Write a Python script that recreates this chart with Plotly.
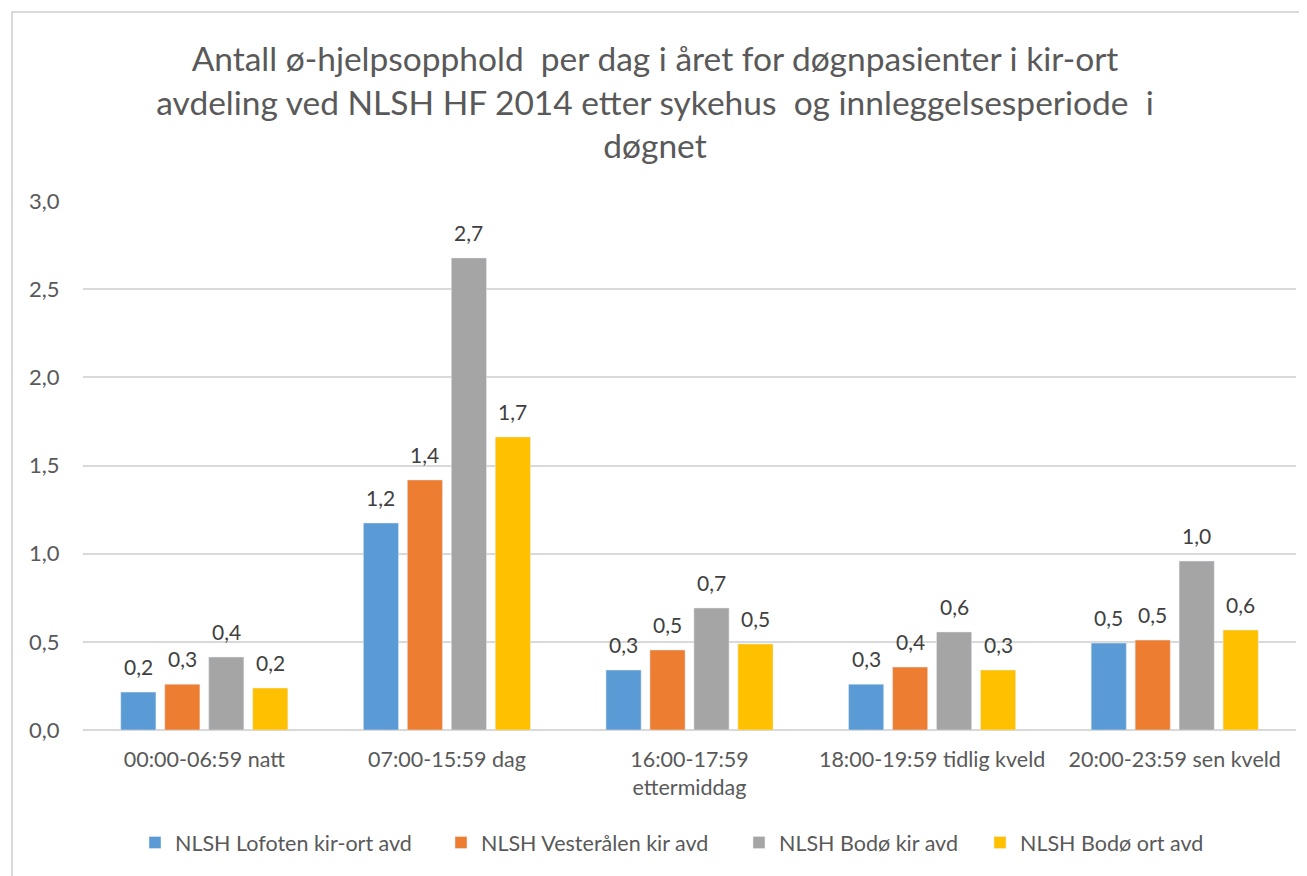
import plotly.graph_objects as go

categories = ["00:00-06:59 natt", "07:00-15:59 dag", "16:00-17:59<br>ettermiddag",
              "18:00-19:59 tidlig kveld", "20:00-23:59 sen kveld"]
series_names = ["NLSH Lofoten kir-ort avd", "NLSH Vesterålen kir avd",
                "NLSH Bodø kir avd", "NLSH Bodø ort avd"]
lofoten = [0.215, 1.174, 0.34, 0.26, 0.493]
vesteralen = [0.26, 1.418, 0.454, 0.357, 0.51]
bodo_kir = [0.414, 2.677, 0.692, 0.556, 0.958]
bodo_ort = [0.238, 1.662, 0.488, 0.34, 0.567]
colors = ["#5B9BD5", "#ED7D31", "#A5A5A5", "#FFC000"]
y_ticks = [0, 0.5, 1.0, 1.5, 2.0, 2.5, 3.0]

title = ("Antall ø-hjelpsopphold  per dag i året for døgnpasienter i kir-ort<br>"
         "avdeling ved NLSH HF 2014 etter sykehus  og innleggelsesperiode  i<br>døgnet")

font_family = "Lato, 'Open Sans', sans-serif"
legend_ids = ["legend", "legend2", "legend3", "legend4"]
legend_px = [150, 456, 754, 995]  # left edge of each legend swatch, page pixels
BARGAP = 0.275
n_series = len(series_names)

all_series = [lofoten, vesteralen, bodo_kir, bodo_ort]
fig = go.Figure()
for name, vals, col, lid in zip(series_names, all_series, colors, legend_ids):
    fig.add_trace(go.Bar(x=categories, y=vals, name=name, marker_color=col, legend=lid,
                         showlegend=True))

# data labels: placed at each bar's centre (category index + group offset, in axis units)
slot = (1 - BARGAP) / n_series
for i, vals in enumerate(all_series):
    for j, v in enumerate(vals):
        fig.add_annotation(x=j + (i - (n_series - 1) / 2) * slot, y=v, xref="x", yref="y",
                           text=f"{v:.1f}".replace(".", ","), showarrow=False,
                           yanchor="bottom", yshift=11,
                           font=dict(size=21, color="#404040", family=font_family))

legend_layout = {}
for lid, px in zip(legend_ids, legend_px):
    legend_layout[lid] = dict(
        orientation="h", x=(px - 15 - 8) / 1307, xanchor="left", xref="container",
        y=1 - 814 / 876, yanchor="top", yref="container",
        font=dict(size=21.5, color="#595959", family=font_family), itemwidth=30,
        bgcolor="rgba(0,0,0,0)")

fig.update_layout(
    width=1307, height=876,
    showlegend=True,
    separators=", ",
    plot_bgcolor="white", paper_bgcolor="white",
    margin=dict(l=75, r=19, t=193, b=154),
    barmode="group", bargap=BARGAP, bargroupgap=0.2,
    font=dict(family=font_family, color="#595959", size=19),
    title=dict(text=title, x=(655 - 8) / 1307, xanchor="center", xref="container",
               y=1 - 63 / 876, yanchor="top", yref="container",
               font=dict(size=33.5, color="#595959", family=font_family)),
    yaxis=dict(range=[0, 3.0], tickvals=y_ticks, tickformat=".1f",
               showgrid=True, gridcolor="#D9D9D9", gridwidth=1.5,
               zeroline=True, zerolinecolor="#D9D9D9", zerolinewidth=1.5,
               ticks="outside", ticklen=18, tickcolor="rgba(0,0,0,0)",
               tickfont=dict(size=22, color="#595959"), showline=False),
    xaxis=dict(showgrid=False, ticks="outside", ticklen=10, tickcolor="rgba(0,0,0,0)",
               tickfont=dict(size=21.5, color="#595959"), showline=False),
    **legend_layout,
)
fig.add_shape(type="rect", xref="paper", yref="paper",
              x0=(12 - 83) / 1213, x1=(1330 - 83) / 1213,
              y0=(730 - 900) / 529, y1=(730 - 12) / 529,
              line=dict(color="#D9D9D9", width=2), fillcolor="rgba(0,0,0,0)", layer="below")
fig.write_html("out.html")
